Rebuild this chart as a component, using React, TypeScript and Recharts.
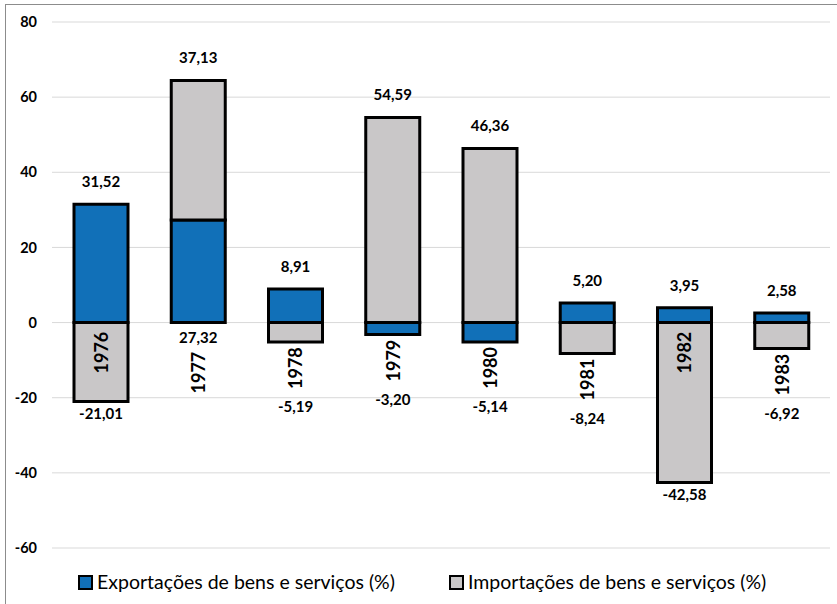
import { BarChart, Bar, XAxis, YAxis, CartesianGrid, LabelList } from 'recharts';

const years = ['1976', '1977', '1978', '1979', '1980', '1981', '1982', '1983'];
const exportacoes = [31.52, 27.32, 8.91, -3.2, -5.14, 5.2, 3.95, 2.58];
const importacoes = [-21.01, 37.13, -5.19, 54.59, 46.36, -8.24, -42.58, -6.92];
const yTicks = [-60, -40, -20, 0, 20, 40, 60, 80];

const seriesNames = ['Exportações de bens e serviços (%)', 'Importações de bens e serviços (%)'];
const BLUE = '#1170b8';
const GRAY = '#c9c7c8';
const FONT = 'Lato, "Open Sans", sans-serif';

const data = years.map((year, i) => ({ year, exp: exportacoes[i], imp: importacoes[i] }));

const fmt = (v: number) => v.toFixed(2).replace('.', ',');

// draws value labels + vertical year label for one category, using the imports bar rect
function CategoryLabels(props: any) {
  const vb = props.viewBox ?? props;
  const i = years.indexOf(String(props.value));
  if (i < 0 || !vb) return null;
  const { x, y, width: w, height: h } = vb;
  const top = Math.min(y, y + h);
  const bottom = Math.max(y, y + h);
  const e = exportacoes[i];
  const m = importacoes[i];
  const ppu = (bottom - top) / Math.abs(m);
  const zero = m > 0 ? bottom + Math.max(e, 0) * ppu : top + Math.min(e, 0) * ppu;
  const py = (v: number) => zero - v * ppu;

  const P = Math.max(e, 0) + Math.max(m, 0);
  const N = Math.min(e, 0) + Math.min(m, 0);
  const aboveVal = m > 0 ? m : e;
  const belowVal = m > 0 ? e : m;
  const cx = x + w / 2;
  const aboveY = py(P) - 23;

  let yearY: number;
  let belowY: number;
  if (e > 0 && m > 0) {
    belowY = zero + 14;
    yearY = zero + 50;
  } else if (py(N) - zero > 60) {
    yearY = zero + 30;
    belowY = py(N) + 11;
  } else {
    yearY = py(N) + 26;
    belowY = py(N) + 64;
  }

  const valStyle = { fontFamily: FONT, fontSize: 15, fontWeight: 700, fill: '#000' };
  return (
    <g>
      <text x={cx} y={aboveY} textAnchor="middle" dominantBaseline="central" style={valStyle}>
        {fmt(aboveVal)}
      </text>
      <text x={cx} y={belowY} textAnchor="middle" dominantBaseline="central" style={valStyle}>
        {fmt(belowVal)}
      </text>
      <text
        x={cx}
        y={yearY}
        transform={`rotate(-90 ${cx} ${yearY})`}
        textAnchor="middle"
        dominantBaseline="central"
        style={{ fontFamily: FONT, fontSize: 18, fontWeight: 700, fill: '#000' }}
      >
        {years[i]}
      </text>
    </g>
  );
}

export default function App() {
  return (
    <div style={{ position: 'absolute', left: 0, top: 0, width: 837, height: 604, overflow: 'hidden', background: '#fff' }}>
      <div style={{ position: 'absolute', left: 5, top: 4, width: 900, height: 700, border: '1px solid #8c8c8c' }} />
      <div style={{ position: 'absolute', left: 0, top: 0 }}>
        <BarChart
          width={837}
          height={604}
          data={data}
          stackOffset="sign"
          margin={{ top: 22, right: 7, bottom: 56, left: 0 }}
        >
          <CartesianGrid vertical={false} stroke="#d9d9d9" />
          <XAxis dataKey="year" hide />
          <YAxis
            domain={[-60, 80]}
            ticks={yTicks}
            interval={0}
            width={52}
            axisLine={false}
            tickLine={false}
            tickSize={0}
            tickMargin={15}
            tick={{ fill: '#000', fontSize: 14.5, fontWeight: 700, fontFamily: FONT }}
          />
          <Bar dataKey="exp" stackId="a" fill={BLUE} stroke="#000" strokeWidth={3} barSize={54} isAnimationActive={false} />
          <Bar dataKey="imp" stackId="a" fill={GRAY} stroke="#000" strokeWidth={3} barSize={54} isAnimationActive={false}>
            <LabelList dataKey="year" content={(p: any) => <CategoryLabels {...p} />} />
          </Bar>
        </BarChart>
      </div>
      <div
        style={{
          position: 'absolute',
          left: 78,
          top: 571,
          display: 'flex',
          alignItems: 'center',
          gap: 54,
          fontFamily: FONT,
          fontSize: 19.5,
          color: '#000',
          lineHeight: '22px',
        }}
      >
        {seriesNames.map((name, k) => (
          <div key={name} style={{ display: 'flex', alignItems: 'center' }}>
            <span
              style={{
                display: 'inline-block',
                width: 11,
                height: 11,
                border: '2px solid #000',
                background: k === 0 ? BLUE : GRAY,
                marginRight: 4,
              }}
            />
            <span>{name}</span>
          </div>
        ))}
      </div>
    </div>
  );
}
